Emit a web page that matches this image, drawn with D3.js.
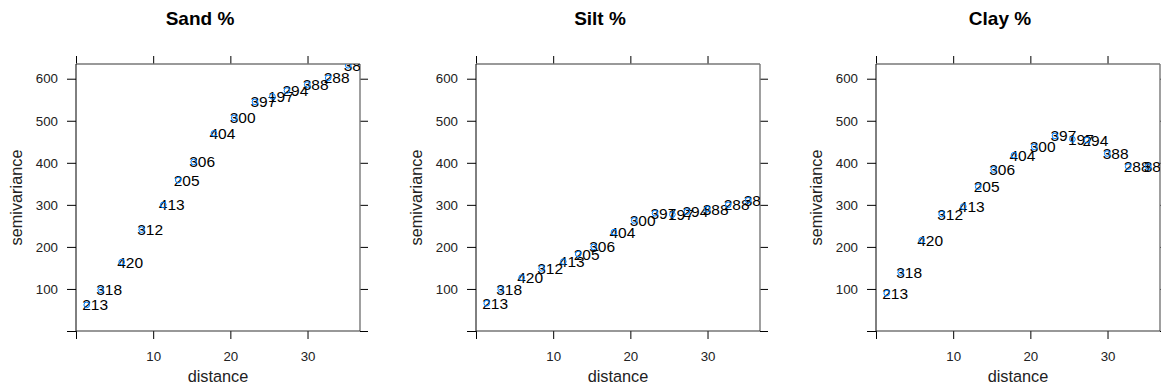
<!DOCTYPE html>
<html>
<head>
<meta charset="utf-8">
<script src="https://cdn.jsdelivr.net/npm/d3@7"></script>
<style>
  body { margin: 0; background: #fff; }
  text { font-family: "Liberation Sans", Arial, sans-serif; }
</style>
</head>
<body>
<div id="chart"></div>
<script>
// sample variogram, one bin per point
var distance = [1.39, 3.2, 5.92, 8.51, 11.31, 13.25, 15.25, 17.88, 20.5, 23.19, 25.45, 27.33, 29.96, 32.68, 35.27];
var npairs   = ["213", "318", "420", "312", "413", "205", "306", "404", "300", "397", "197", "294", "388", "288", "388"];
var sand     = [62, 98, 164, 241, 300, 359, 402, 470, 507, 545, 558, 572, 586, 602, 632];
var silt     = [66, 99, 127, 149, 165, 183, 200, 235, 263, 280, 277, 284, 290, 300, 311];
var clay     = [90, 139, 216, 278, 296, 343, 384, 418, 438, 464, 456, 454, 422, 391, 391];
var titles   = ["Sand %", "Silt %", "Clay %"];
var yTicks   = [0, 100, 200, 300, 400, 500, 600];
var xTicks   = [0, 10, 20, 30];

var series = [sand, silt, clay];

var Width = 1161, Height = 390;
var PanelW = 284, PanelH = 267;
var PanelTop = 64;

var svg = d3.select("#chart").append("svg")
    .attr("width", Width)
    .attr("height", Height);

var x = d3.scaleLinear().domain([0, 36.8]).range([0, PanelW]);
var y = d3.scaleLinear().domain([0, 635]).range([PanelH, 0]);

series.forEach((values, i) => {
    var left = 76 + i * 400;
    var g = svg.append("g").attr("transform", "translate(" + left + "," + PanelTop + ")");

    // title
    svg.append("text")
        .attr("x", 200 + i * 400)
        .attr("y", 25)
        .attr("text-anchor", "middle")
        .style("font-size", "19px")
        .style("font-weight", "bold")
        .text(titles[i]);

    // axes, lattice style: labels left/bottom, bare ticks top/right
    var axL = g.append("g")
        .call(d3.axisLeft(y).tickValues(yTicks).tickSize(9).tickSizeOuter(0).tickPadding(9)
            .tickFormat(d => d === 0 ? "" : d));
    var axB = g.append("g").attr("transform", "translate(0," + PanelH + ")")
        .call(d3.axisBottom(x).tickValues(xTicks).tickSize(8).tickSizeOuter(0).tickPadding(13)
            .tickFormat(d => d === 0 ? "" : d));
    var axT = g.append("g")
        .call(d3.axisTop(x).tickValues(xTicks).tickSize(8).tickSizeOuter(0).tickFormat(""));
    var axR = g.append("g").attr("transform", "translate(" + PanelW + ",0)")
        .call(d3.axisRight(y).tickValues(yTicks).tickSize(8).tickSizeOuter(0).tickFormat(""));

    [axL, axB, axT, axR].forEach(a => {
        a.select(".domain").remove();
        a.selectAll("line").attr("stroke", "#000");
        a.selectAll("text").style("font-size", "13.3px").attr("fill", "#222")
            .style("font-family", "\"Liberation Sans\", Arial, sans-serif");
    });

    // frame
    g.append("line").attr("x1", 0).attr("x2", PanelW).attr("y1", 0).attr("y2", 0)
        .attr("stroke", "#777").attr("stroke-width", 1.4);
    g.append("line").attr("x1", PanelW).attr("x2", PanelW).attr("y1", 0).attr("y2", PanelH)
        .attr("stroke", "#777").attr("stroke-width", 1.4);
    g.append("line").attr("x1", 0).attr("x2", 0).attr("y1", 0).attr("y2", PanelH)
        .attr("stroke", "#000");
    g.append("line").attr("x1", 0).attr("x2", PanelW).attr("y1", PanelH).attr("y2", PanelH)
        .attr("stroke", "#333").attr("stroke-width", 1.2);

    // axis titles
    svg.append("text")
        .attr("x", left + PanelW / 2)
        .attr("y", 382)
        .attr("text-anchor", "middle")
        .attr("fill", "#222")
        .style("font-size", "16.3px")
        .text("distance");
    svg.append("text")
        .attr("transform", "translate(" + (left - 54) + "," + (PanelTop + PanelH / 2) + ") rotate(-90)")
        .attr("text-anchor", "middle")
        .attr("fill", "#222")
        .style("font-size", "16.3px")
        .text("semivariance");

    // clipped plotting region
    svg.append("clipPath").attr("id", "clip" + i)
        .append("rect").attr("width", PanelW).attr("height", PanelH);
    var plot = g.append("g").attr("clip-path", "url(#clip" + i + ")");

    var pts = values.map((v, k) => ({ d: distance[k], g: v, n: npairs[k] }));

    plot.selectAll("text.np")
        .data(pts)
        .enter()
        .append("text")
        .attr("class", "np")
        .attr("x", d => x(d.d) - 4.5)
        .attr("y", d => y(d.g) + 5.5)
        .attr("fill", "#000")
        .style("font-size", "15.5px")
        .text(d => d.n);

    plot.selectAll("circle")
        .data(pts)
        .enter()
        .append("circle")
        .attr("cx", d => x(d.d))
        .attr("cy", d => y(d.g))
        .attr("r", 2.8)
        .attr("fill", "none")
        .attr("stroke", "#0080ff")
        .attr("stroke-width", 1);
});
</script>
</body>
</html>
